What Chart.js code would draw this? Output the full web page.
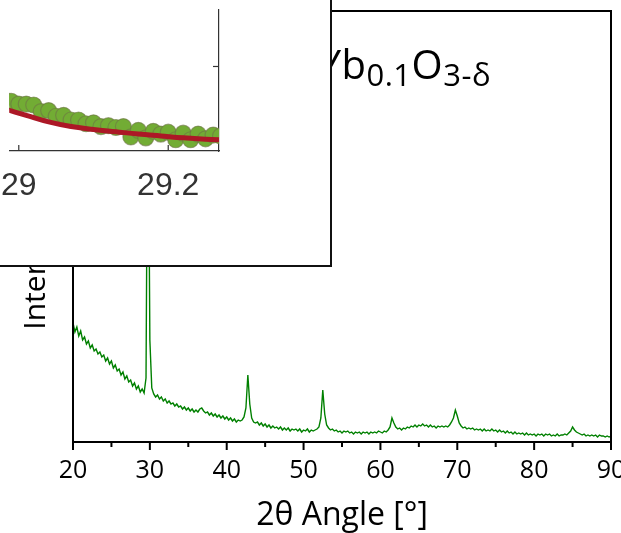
<!DOCTYPE html>
<html>
<head>
<meta charset="utf-8">
<script src="https://cdn.jsdelivr.net/npm/chart.js@4"></script>
<style>
  body { margin: 0; background: #fff; overflow: hidden; }
  #wrap { position: relative; width: 621px; height: 533px; }
  #main { position: absolute; left: 0; top: 0; }
  #formula {
    position: absolute; right: 130px; top: 44px;
    font-family: 'Open Sans'; font-size: 40px; line-height: 40px;
    letter-spacing: 0.5px; white-space: nowrap; color: #000;
  }
  #formula .s { font-size: 31px; vertical-align: -7px; }
  #inset {
    position: absolute; left: 0; top: 0; width: 332px; height: 267px;
    box-sizing: border-box; background: #fff;
    border-right: 2px solid #111; border-bottom: 2px solid #111;
  }
  #insetChart { position: absolute; left: 0; top: 0; }
</style>
</head>
<body>
<div id="wrap">
  <canvas id="main" width="621" height="533"></canvas>
  <div id="formula">BaCe<span class="s">0.7</span>Zr<span class="s">0.1</span>Y<span class="s">0.1</span>Yb<span class="s">0.1</span>O<span class="s">3-δ</span></div>
  <div id="inset"><canvas id="insetChart" width="330" height="265"></canvas></div>
</div>
<script>
// XRD pattern, 2theta from 20 to 90 in 0.25 deg steps
const angleStart = 20;
const angleStep = 0.25;
const intensity = [
  117,108,113,104,109,100,103,96,99,92,95,89,91,86,88,83,85,79,82,76,
  79,72,75,69,71,65,68,61,64,58,60,54,57,51,54,48,51,47,62,400,
  100,52,46,43,45,41,43,39,41,37,39,36,37,34,36,33,34,31,33,30,
  32,29,31,28,30,28,31,32,29,27,28,25,27,24,26,23,25,22,24,21,
  23,20,22,19,21,18,20,19,20,23,32,65,36,22,18,17,18,15,17,14,
  16,13,15,12,14,12,13,11,13,10,12,10,12,9,11,10,11,9,11,8,
  10,9,11,8,10,9,10,11,13,22,50,26,15,12,10,11,9,10,8,9,
  7,9,8,9,7,8,6,8,7,8,6,8,7,8,6,8,7,8,7,9,
  8,7,9,8,10,13,22,17,13,11,12,10,12,11,13,12,14,13,15,13,
  15,14,16,14,15,13,15,13,14,12,14,13,14,13,14,13,15,18,22,30,
  24,17,14,12,13,11,12,11,12,10,11,10,11,9,11,9,10,9,11,9,
  10,8,10,8,9,7,9,7,8,6,8,6,7,6,7,5,7,5,6,5,
  6,4,6,5,6,4,6,5,6,4,5,4,6,4,5,5,6,5,7,9,
  13,10,8,7,6,5,6,4,5,4,5,4,5,3,5,4,4,3,4,3,
  4
];

// inset: zoom on the main peak flank
const dotAngles = [28.98,28.99,29.00,29.01,29.02,29.03,29.04,29.05,29.06,29.07,
                   29.08,29.09,29.10,29.11,29.12,29.13,29.14,29.15,29.16,29.17,
                   29.18,29.19,29.20,29.21,29.22,29.23,29.24,29.25,29.26,29.27];
const dotValues = [55,53,50,50,49,42,43,37,38,33,
                   33,29,30,26,27,25,26,15,22,14,
                   21,18,20,12,19,12,18,13,17,16];
const fitAngles = [28.98,29.01,29.04,29.07,29.10,29.13,29.16,29.19,29.22,29.25,29.28];
const fitValues = [45,38,31,26,23,20.5,18,16,14,12.5,11.5];
const insetXTicks = [29, 29.2];
const insetYTicks = [90];

const xrdPoints = intensity.map((v, i) => ({ x: angleStart + i * angleStep, y: v }));

const framePlugin = {
  id: 'frame',
  afterDraw(chart) {
    const { ctx, chartArea: a, scales: { x } } = chart;
    ctx.save();
    ctx.strokeStyle = '#000';
    ctx.lineWidth = 2;
    ctx.strokeRect(a.left, a.top, a.right - a.left, a.bottom - a.top);
    x.ticks.forEach(t => {
      const px = x.getPixelForValue(t.value);
      const len = t.value % 10 === 0 ? 8 : 5;
      ctx.beginPath();
      ctx.moveTo(px, a.bottom);
      ctx.lineTo(px, a.bottom + len);
      ctx.stroke();
    });
    ctx.restore();
  }
};

new Chart(document.getElementById('main'), {
  type: 'line',
  data: {
    datasets: [{
      data: xrdPoints,
      borderColor: 'rgb(0,128,0)',
      borderWidth: 1.4,
      pointRadius: 0,
      tension: 0
    }]
  },
  options: {
    responsive: false,
    animation: false,
    layout: { padding: { top: 11, right: 10, left: 0, bottom: 0 } },
    plugins: { legend: { display: false }, tooltip: { enabled: false } },
    scales: {
      x: {
        type: 'linear', min: 20, max: 90,
        grid: { display: false, drawTicks: false },
        border: { display: false },
        ticks: {
          stepSize: 5, padding: 14, autoSkip: false, maxRotation: 0, color: '#000',
          font: { family: 'Open Sans', size: 25 },
          callback: v => (v % 10 === 0 ? v : '')
        },
        title: {
          display: true, text: '2θ Angle [°]', color: '#000',
          font: { family: 'Open Sans', size: 32, lineHeight: 1.1 }, padding: { top: 0, bottom: 0 }
        },
        afterFit: s => { s.height = 91; s.paddingLeft = 0; s.paddingRight = 0; }
      },
      y: {
        min: -2, max: 429,
        grid: { display: false, drawTicks: false },
        border: { display: false },
        ticks: { display: false },
        title: {
          display: true, text: 'Intensity [a. u.]', color: '#000',
          font: { family: 'Open Sans', size: 30 }, padding: { top: 18, bottom: 0 }
        },
        afterFit: s => { s.width = 73; }
      }
    }
  },
  plugins: [framePlugin]
});

const insetTickPlugin = {
  id: 'insetTicks',
  afterDraw(chart) {
    const { ctx, chartArea: a, scales: { x, y } } = chart;
    ctx.save();
    ctx.strokeStyle = '#333';
    ctx.lineWidth = 1.2;
    insetXTicks.forEach(v => {
      const px = x.getPixelForValue(v);
      ctx.beginPath(); ctx.moveTo(px, a.bottom); ctx.lineTo(px, a.bottom - 6); ctx.stroke();
    });
    insetYTicks.forEach(v => {
      const py = y.getPixelForValue(v);
      ctx.beginPath(); ctx.moveTo(a.right, py); ctx.lineTo(a.right - 6, py); ctx.stroke();
    });
    ctx.restore();
  }
};

new Chart(document.getElementById('insetChart'), {
  type: 'line',
  data: {
    datasets: [{
      data: fitAngles.map((a, i) => ({ x: a, y: fitValues[i] })),
      borderColor: 'rgb(172,24,38)',
      borderWidth: 5,
      pointRadius: 0,
      tension: 0.4,
      order: 0
    }, {
      data: dotAngles.map((a, i) => ({ x: a, y: dotValues[i] })),
      showLine: false,
      pointRadius: 8,
      pointBackgroundColor: 'rgb(114,172,52)',
      pointBorderColor: 'rgba(110,115,70,0.6)',
      pointBorderWidth: 1.2,
      order: 1
    }]
  },
  options: {
    responsive: false,
    animation: false,
    layout: { padding: 0 },
    plugins: { legend: { display: false }, tooltip: { enabled: false } },
    scales: {
      x: {
        type: 'linear', min: 28.98718, max: 29.26795,
        afterBuildTicks: s => { s.ticks = insetXTicks.map(v => ({ value: v })); },
        grid: { display: false, drawTicks: false },
        border: { display: true, color: '#333', width: 1.2 },
        ticks: {
          padding: 16, autoSkip: false, maxRotation: 0, color: '#333',
          font: { family: 'Liberation Sans', size: 32 },
          callback: v => String(v)
        },
        afterFit: s => { s.height = 114; s.paddingLeft = 0; s.paddingRight = 0; }
      },
      y: {
        position: 'right', min: 0, max: 151,
        grid: { display: false, drawTicks: false },
        border: { display: true, color: '#333', width: 1.2 },
        ticks: { display: false },
        afterFit: s => { s.width = 111; }
      }
    }
  },
  plugins: [insetTickPlugin]
});
</script>
</body>
</html>
